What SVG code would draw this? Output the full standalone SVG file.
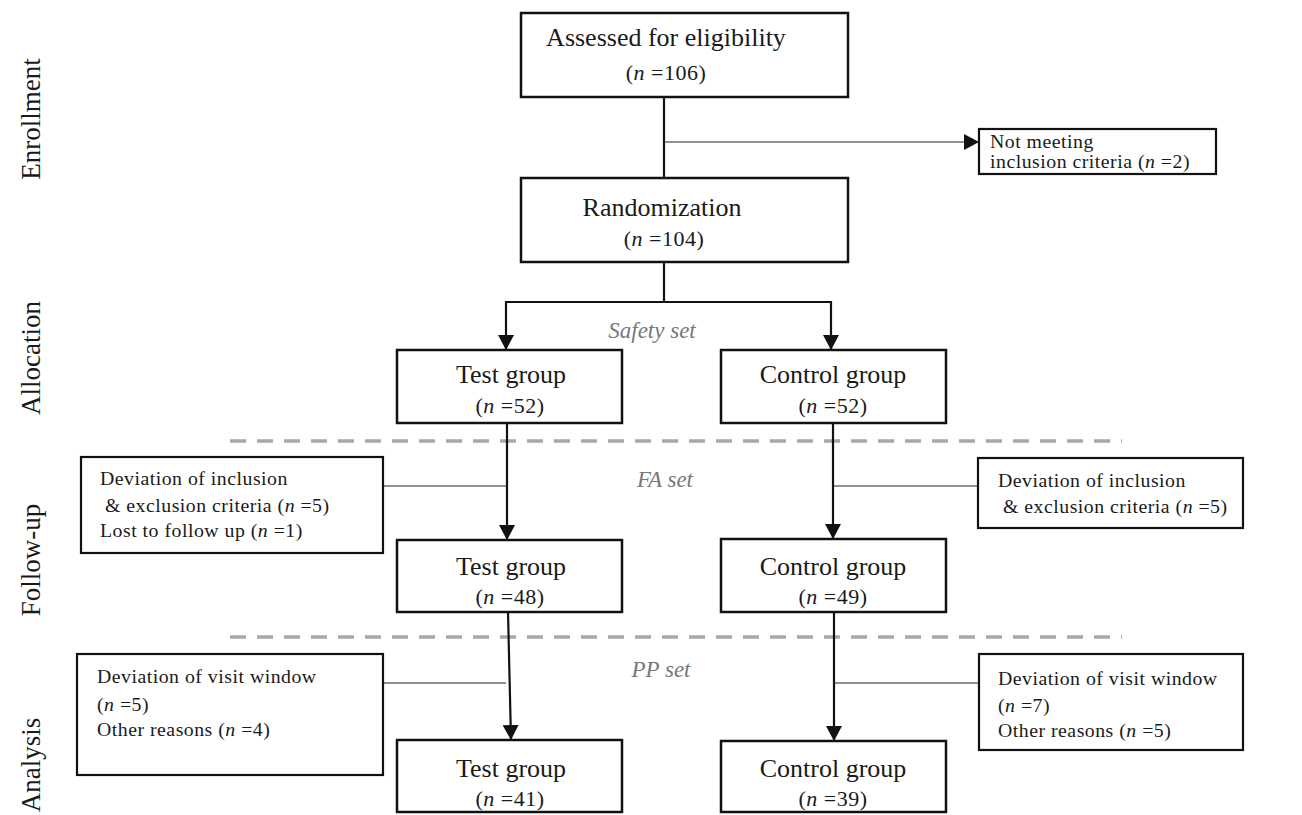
<svg xmlns="http://www.w3.org/2000/svg" width="1302" height="815" viewBox="0 0 1302 815">
<style>
text{font-family:"Liberation Serif","Times New Roman",serif;fill:#1a1a1a}
.box{fill:#fff;stroke:#111;stroke-width:2.5}
.sbox{fill:#fff;stroke:#111;stroke-width:2.2}
.t{font-size:26px;text-anchor:middle}
.n{font-size:22px;text-anchor:middle;letter-spacing:0.5px}
.s{font-size:19.8px;letter-spacing:0.5px}
.side{font-size:27px;text-anchor:middle}
.set{font-size:23px;font-style:italic;fill:#777;text-anchor:middle}
.thick{stroke:#111;stroke-width:2.2;fill:none}
.thin{stroke:#222;stroke-width:1.2;fill:none}
.dash{stroke:#a8a8a8;stroke-width:3.5;stroke-dasharray:16 11;fill:none}
</style>
<defs>
<marker id="ah" markerUnits="userSpaceOnUse" markerWidth="18" markerHeight="18" refX="15" refY="8" orient="auto">
<path d="M0,0 L15,8 L0,16 z" fill="#111"/>
</marker>
</defs>
<rect width="1302" height="815" fill="#fff"/>

<g id="side-labels">
<text class="side" transform="translate(40,119) rotate(-90)">Enrollment</text>
<text class="side" transform="translate(40,358) rotate(-90)">Allocation</text>
<text class="side" transform="translate(40,560) rotate(-90)">Follow-up</text>
<text class="side" transform="translate(40,765) rotate(-90)">Analysis</text>
</g>

<g id="dividers">
<line class="dash" x1="230" y1="441" x2="1122" y2="441"/>
<line class="dash" x1="230" y1="637" x2="1122" y2="637"/>
</g>

<g id="set-labels">
<text class="set" x="652" y="338">Safety set</text>
<text class="set" x="665" y="487">FA set</text>
<text class="set" x="661" y="677">PP set</text>
</g>

<g id="connectors">
<line class="thick" x1="664" y1="97" x2="664" y2="178"/>
<line class="thin" x1="664" y1="142" x2="979" y2="142" marker-end="url(#ah)"/>
<line class="thick" x1="664" y1="262" x2="664" y2="302"/>
<polyline class="thick" points="506,302 831,302"/>
<line class="thick" x1="506" y1="301" x2="506" y2="350" marker-end="url(#ah)"/>
<line class="thick" x1="831" y1="301" x2="831" y2="350" marker-end="url(#ah)"/>
<line class="thick" x1="507" y1="423" x2="507" y2="540" marker-end="url(#ah)"/>
<line class="thick" x1="833" y1="423" x2="833" y2="539" marker-end="url(#ah)"/>
<line class="thin" x1="383" y1="486" x2="507" y2="486"/>
<line class="thin" x1="833" y1="486" x2="978" y2="486"/>
<line class="thick" x1="508" y1="612" x2="511" y2="740" marker-end="url(#ah)"/>
<line class="thick" x1="834" y1="612" x2="834" y2="741" marker-end="url(#ah)"/>
<line class="thin" x1="383" y1="683" x2="506" y2="683"/>
<line class="thin" x1="834" y1="683" x2="979" y2="683"/>
</g>

<g id="assessed">
<rect class="box" x="521" y="13" width="327" height="84"/>
<text class="t" x="666" y="46">Assessed for eligibility</text>
<text class="n" x="666" y="80">(<tspan font-style="italic">n</tspan> =106)</text>
</g>

<g id="not-meeting">
<rect class="sbox" x="979" y="129" width="237" height="45"/>
<text class="s" x="990" y="148">Not meeting</text>
<text class="s" x="990" y="168">inclusion criteria (<tspan font-style="italic">n</tspan> =2)</text>
</g>

<g id="randomization">
<rect class="box" x="521" y="178" width="327" height="84"/>
<text class="t" x="662" y="216">Randomization</text>
<text class="n" x="664" y="246">(<tspan font-style="italic">n</tspan> =104)</text>
</g>

<g id="test-safety">
<rect class="box" x="397" y="350" width="225" height="73"/>
<text class="t" x="511" y="383">Test group</text>
<text class="n" x="510" y="413">(<tspan font-style="italic">n</tspan> =52)</text>
</g>

<g id="control-safety">
<rect class="box" x="721" y="350" width="225" height="73"/>
<text class="t" x="833" y="383">Control group</text>
<text class="n" x="833" y="413">(<tspan font-style="italic">n</tspan> =52)</text>
</g>

<g id="excl-fa-test">
<rect class="sbox" x="81" y="457" width="302" height="96"/>
<text class="s" x="100" y="485">Deviation of inclusion</text>
<text class="s" x="105" y="512">&amp; exclusion criteria (<tspan font-style="italic">n</tspan> =5)</text>
<text class="s" x="100" y="537">Lost to follow up (<tspan font-style="italic">n</tspan> =1)</text>
</g>

<g id="excl-fa-control">
<rect class="sbox" x="978" y="458" width="265" height="70"/>
<text class="s" x="998" y="487">Deviation of inclusion</text>
<text class="s" x="1003" y="513">&amp; exclusion criteria (<tspan font-style="italic">n</tspan> =5)</text>
</g>

<g id="test-fa">
<rect class="box" x="397" y="540" width="225" height="72"/>
<text class="t" x="511" y="575">Test group</text>
<text class="n" x="510" y="604">(<tspan font-style="italic">n</tspan> =48)</text>
</g>

<g id="control-fa">
<rect class="box" x="721" y="539" width="225" height="73"/>
<text class="t" x="833" y="575">Control group</text>
<text class="n" x="833" y="604">(<tspan font-style="italic">n</tspan> =49)</text>
</g>

<g id="excl-pp-test">
<rect class="sbox" x="77" y="654" width="306" height="121"/>
<text class="s" x="97" y="683">Deviation of visit window</text>
<text class="s" x="97" y="711">(<tspan font-style="italic">n</tspan> =5)</text>
<text class="s" x="97" y="736">Other reasons (<tspan font-style="italic">n</tspan> =4)</text>
</g>

<g id="excl-pp-control">
<rect class="sbox" x="979" y="654" width="264" height="96"/>
<text class="s" x="998" y="685">Deviation of visit window</text>
<text class="s" x="998" y="712">(<tspan font-style="italic">n</tspan> =7)</text>
<text class="s" x="998" y="737">Other reasons (<tspan font-style="italic">n</tspan> =5)</text>
</g>

<g id="test-pp">
<rect class="box" x="397" y="740" width="225" height="72"/>
<text class="t" x="511" y="777">Test group</text>
<text class="n" x="510" y="806">(<tspan font-style="italic">n</tspan> =41)</text>
</g>

<g id="control-pp">
<rect class="box" x="721" y="741" width="225" height="71"/>
<text class="t" x="833" y="777">Control group</text>
<text class="n" x="833" y="806">(<tspan font-style="italic">n</tspan> =39)</text>
</g>
</svg>
